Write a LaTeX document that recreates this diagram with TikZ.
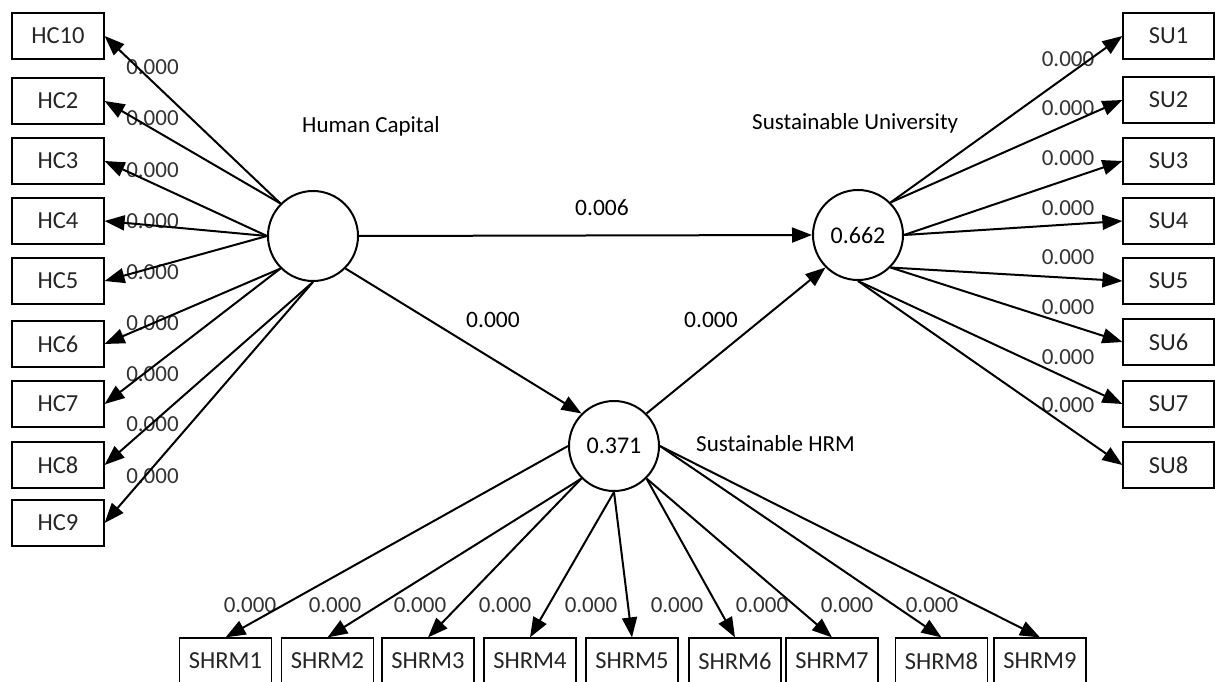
\documentclass[tikz,border=0pt]{standalone}
\usepackage{fontspec}
\setmainfont{Carlito}
\usetikzlibrary{arrows.meta}
\begin{document}
\begin{tikzpicture}[x=1pt,y=-1pt,
  ind/.style={draw, line width=1.2pt, minimum width=92pt, minimum height=46pt, inner sep=0pt, font=\fontsize{24.5}{28}\selectfont, text=black!85},
  lv/.style={draw, circle, line width=2pt, minimum size=90pt, inner sep=0pt, font=\fontsize{24}{28}\selectfont},
  lab/.style={inner sep=0pt, font=\fontsize{23}{27}\selectfont, text=black!80},
  plab/.style={inner sep=0pt, font=\fontsize{23.5}{27}\selectfont},
  head/.style={inner sep=0pt, anchor=base west, font=\fontsize{23}{27}\selectfont},
  arr/.style={line width=2pt, -{Triangle[length=20pt,width=15pt]}}]
\useasboundingbox (0,0) rectangle (1215,682);

% latent variables
\node[lv] (hc) at (313,236) {};
\node[lv] (su) at (858,235) {0.662};
\node[lv] (shrm) at (614,446) {0.371};

% headings
\node[head] (hhc) at (302,132) {Human Capital};
\node[head] (hsu) at (752,129) {Sustainable University};
\node[head] (hshrm) at (696,451) {Sustainable HRM};

% HC indicators
\node[ind] (hc10) at (58,36) {HC10};
\node[ind] (hc2) at (58,101) {HC2};
\node[ind] (hc3) at (58,161) {HC3};
\node[ind] (hc4) at (58,221) {HC4};
\node[ind] (hc5) at (58,281) {HC5};
\node[ind] (hc6) at (58,344) {HC6};
\node[ind] (hc7) at (58,404) {HC7};
\node[ind] (hc8) at (58,465) {HC8};
\node[ind] (hc9) at (58,523) {HC9};

% SU indicators
\node[ind, minimum width=91pt] (su1) at (1168.5,36) {SU1};
\node[ind, minimum width=91pt] (su2) at (1168.5,100) {SU2};
\node[ind, minimum width=91pt] (su3) at (1168.5,161) {SU3};
\node[ind, minimum width=91pt] (su4) at (1168.5,221) {SU4};
\node[ind, minimum width=91pt] (su5) at (1168.5,281) {SU5};
\node[ind, minimum width=91pt] (su6) at (1168.5,342) {SU6};
\node[ind, minimum width=91pt] (su7) at (1168.5,404) {SU7};
\node[ind, minimum width=91pt] (su8) at (1168.5,465) {SU8};

% SHRM indicators
\node[ind] (s1) at (225.5,661) {SHRM1};
\node[ind] (s2) at (327.5,661) {SHRM2};
\node[ind] (s3) at (428,661) {SHRM3};
\node[ind] (s4) at (530,661) {SHRM4};
\node[ind] (s5) at (632,661) {SHRM5};
\node[ind] (s6) at (735,661) {SHRM6};
\node[ind] (s7) at (832,661) {SHRM7};
\node[ind] (s8) at (941.5,661) {SHRM8};
\node[ind] (s9) at (1040,661) {SHRM9};

% loading labels
\foreach \y/\n in {67/a,118/b,170/c,221/d,272/e,323/f,374/g,424/h,476/i}
  \node[lab] (lh\n) at (152.5,\y) {0.000};
\foreach \y/\n in {59/a,108/b,158/c,208/d,257/e,307/f,357/g,405/h}
  \node[lab] (ls\n) at (1068,\y) {0.000};
\foreach \x/\n in {250/a,335/b,420/c,505/d,591/e,677/f,762/g,847/h,932/i}
  \node[lab] (lr\n) at (\x,605) {0.000};

% path labels
\node[plab] (p1) at (602,208) {0.006};
\node[plab] (p2) at (493,320) {0.000};
\node[plab] (p3) at (711,320) {0.000};

% structural paths
\draw[arr] (hc.east) -- (su.west);
\draw[arr] (hc.south east) -- (shrm.north west);
\draw[arr] (shrm.north east) -- (su.south west);

% HC loadings
\draw[arr] (hc.north west) -- (hc10.east);
\draw[arr] (hc.north west) -- (hc2.east);
\draw[arr] (hc.west) -- (hc3.east);
\draw[arr] (hc.west) -- (hc4.east);
\draw[arr] (hc.west) -- (hc5.east);
\draw[arr] (hc.south west) -- (hc6.east);
\draw[arr] (hc.south west) -- (hc7.east);
\draw[arr] (hc.south) -- (hc8.east);
\draw[arr] (hc.south) -- (hc9.east);

% SU loadings
\draw[arr] (su.north east) -- (su1.west);
\draw[arr] (su.north east) -- (su2.west);
\draw[arr] (su.east) -- (su3.west);
\draw[arr] (su.east) -- (su4.west);
\draw[arr] (su.south east) -- (su5.west);
\draw[arr] (su.south east) -- (su6.west);
\draw[arr] (su.south) -- (su7.west);
\draw[arr] (su.south) -- (su8.west);

% SHRM loadings
\draw[arr] (shrm.west) -- (s1.north);
\draw[arr] (shrm.south west) -- (s2.north);
\draw[arr] (shrm.south west) -- (s3.north);
\draw[arr] (shrm.south) -- (s4.north);
\draw[arr] (shrm.south) -- (s5.north);
\draw[arr] (shrm.south east) -- (s6.north);
\draw[arr] (shrm.south east) -- (s7.north);
\draw[arr] (shrm.east) -- (s8.north);
\draw[arr] (shrm.east) -- (s9.north);
\end{tikzpicture}
\end{document}
